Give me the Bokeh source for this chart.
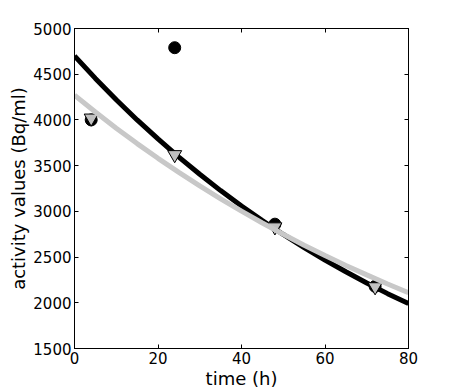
from bokeh.plotting import figure
from bokeh.models import FixedTicker, LinearAxis, Range1d
from bokeh.embed import file_html
from bokeh.resources import INLINE

# measured data
t_meas = [4, 24, 48, 72]
circle_vals = [4000, 4790, 2860, 2180]
triangle_vals = [4020, 3620, 2830, 2175]

# fitted curves
t_fit = [0, 5, 10, 15, 20, 25, 30, 35, 40, 45, 50, 55, 60, 65, 70, 75, 80]
black_fit = [4700, 4454, 4221, 4000, 3792, 3593, 3406, 3227, 3059, 2899, 2747,
             2604, 2468, 2339, 2216, 2100, 1991]
gray_fit = [4270, 4086, 3910, 3741, 3580, 3426, 3278, 3137, 3002, 2873, 2749,
            2630, 2517, 2408, 2305, 2205, 2110]

x_ticks = [0, 20, 40, 60, 80]
y_ticks = [1500, 2000, 2500, 3000, 3500, 4000, 4500, 5000]

FONT = "DejaVu Sans"

p = figure(frame_width=334, frame_height=320, output_backend="svg",
           toolbar_location=None, x_range=Range1d(0, 80), y_range=Range1d(1500, 5000),
           min_border_left=74, min_border_top=28, min_border_right=10, min_border_bottom=10)
p.background_fill_color = "white"
p.border_fill_color = "white"
p.outline_line_color = "black"
p.outline_line_width = 1
p.xgrid.visible = False
p.ygrid.visible = False

def style_axis(ax, ticks, label=None, show_labels=True):
    ax.ticker = FixedTicker(ticks=ticks)
    ax.major_tick_in = 4
    ax.major_tick_out = 0
    ax.minor_tick_in = 0
    ax.minor_tick_out = 0
    ax.axis_line_color = "black"
    ax.major_tick_line_color = "black"
    if show_labels:
        ax.major_label_text_font = FONT
        ax.major_label_text_font_size = "15px"
        ax.major_label_text_color = "black"
        ax.major_label_standoff = 3
    else:
        ax.major_label_text_font_size = "0px"
        ax.major_label_text_alpha = 0
        ax.major_label_standoff = 0
    if label:
        ax.axis_label = label
        ax.axis_label_text_font = FONT
        ax.axis_label_text_font_size = "18px"
        ax.axis_label_text_font_style = "normal"
        ax.axis_label_text_color = "black"
        ax.axis_label_standoff = 1

style_axis(p.xaxis[0], x_ticks, "time (h)")
style_axis(p.yaxis[0], y_ticks, "activity values (Bq/ml)")

top_ax = LinearAxis()
style_axis(top_ax, x_ticks, show_labels=False)
p.add_layout(top_ax, "above")
right_ax = LinearAxis()
style_axis(right_ax, y_ticks, show_labels=False)
p.add_layout(right_ax, "right")

p.line(t_fit, black_fit, line_color="black", line_width=5)
p.scatter(t_meas, circle_vals, marker="circle", size=12, fill_color="black", line_color="black")
p.scatter(t_meas, triangle_vals, marker="inverted_triangle", size=14,
          fill_color="#c0c0c0", line_color="black", line_width=1)
p.line(t_fit, gray_fit, line_color="#c8c8c8", line_width=5)

open("out.html", "w").write(file_html(p, INLINE))
